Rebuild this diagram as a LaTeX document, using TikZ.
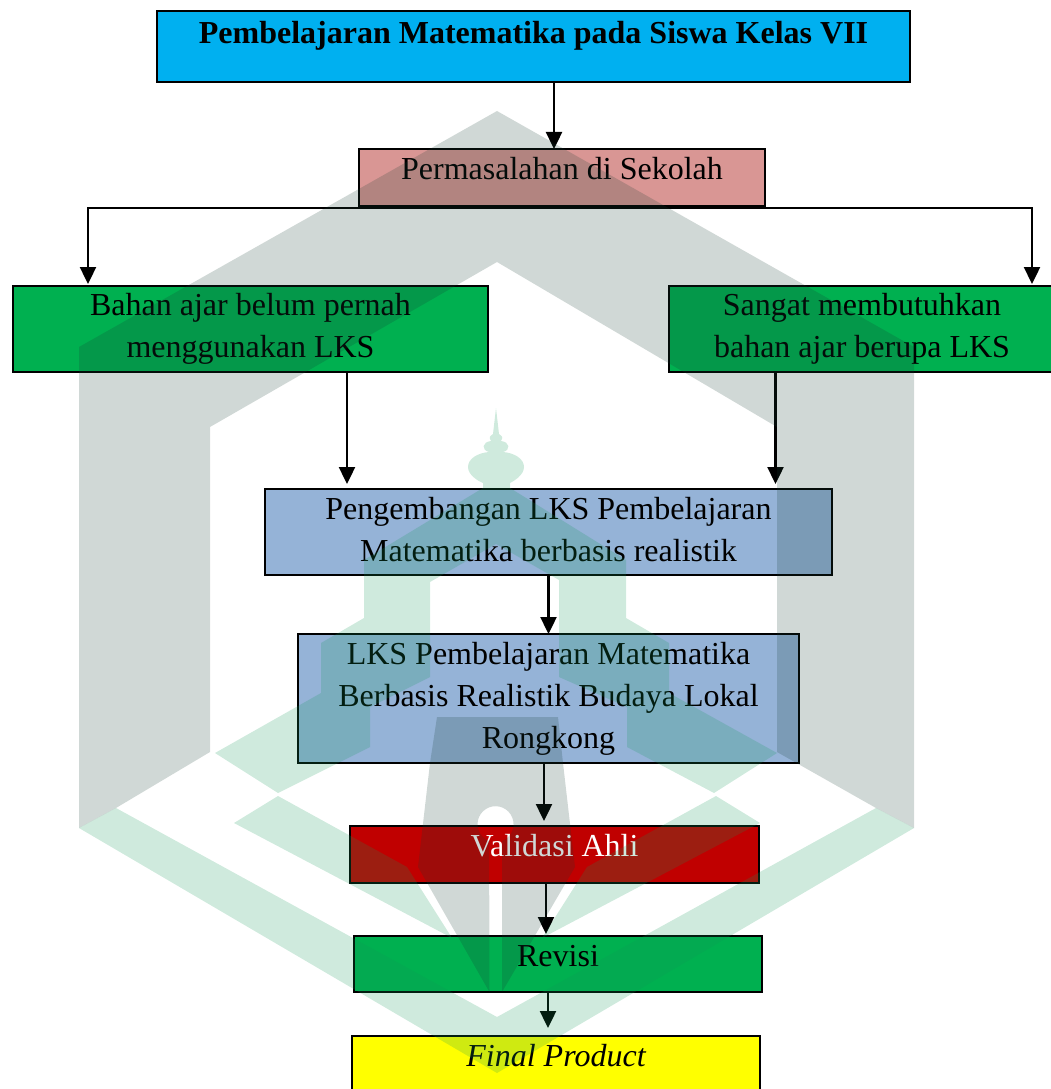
\documentclass[tikz,border=0pt]{standalone}
\usepackage{fontspec}
\setmainfont{Liberation Serif}
\usetikzlibrary{arrows.meta,positioning}

\definecolor{biru}{HTML}{00B0F0}
\definecolor{merahmuda}{HTML}{D99694}
\definecolor{hijaukotak}{HTML}{00B050}
\definecolor{birumuda}{HTML}{95B3D7}
\definecolor{merah}{HTML}{C00000}
\definecolor{kuning}{HTML}{FFFF00}
\definecolor{abu}{HTML}{163C32}
\definecolor{hijau}{HTML}{0F9655}

\tikzset{
  kotak/.style={draw,line width=2pt,inner sep=0pt,outer sep=0pt,align=center,
    font=\fontsize{32}{42}\selectfont},
  panah/.style={->,line width=2.4pt},
  abuair/.style={fill=abu,fill opacity=.2},
  hijauair/.style={fill=hijau,fill opacity=.2}
}

\begin{document}
\begin{tikzpicture}[x=1pt,y=-1pt,>={Triangle[length=17pt,width=16pt]}]
  \useasboundingbox (0,0) rectangle (1051,1089);

  \node[kotak,fill=biru,minimum width=753pt,minimum height=71pt,text height=32.5pt,text depth=38.5pt] (judul) at (533.5,46.5)
    {\bfseries Pembelajaran Matematika pada Siswa Kelas VII};
  \node[kotak,fill=merahmuda,minimum width=406pt,minimum height=57pt,text height=30pt,text depth=27pt] (masalah) [below=67pt of judul,xshift=28.5pt]
    {Permasalahan di Sekolah};
  \node[kotak,fill=hijaukotak,minimum width=475pt,minimum height=86pt,text height=71.5pt,text depth=14.5pt] (bahan) [below=80pt of masalah,xshift=-311.5pt]
    {Bahan ajar belum pernah\\menggunakan LKS};
  \node[kotak,fill=hijaukotak,minimum width=386pt,minimum height=86pt,text height=71.5pt,text depth=14.5pt] (butuh) [right=181pt of bahan]
    {Sangat membutuhkan\\bahan ajar berupa LKS};
  \node[kotak,fill=birumuda,minimum width=567pt,minimum height=86pt,text height=72pt,text depth=14pt] (kembang) [below=117pt of bahan,xshift=298pt]
    {Pengembangan LKS Pembelajaran\\Matematika berbasis realistik};
  \node[kotak,fill=birumuda,minimum width=501pt,minimum height=129pt,text height=114pt,text depth=15pt] (lks) [below=59pt of kembang]
    {LKS Pembelajaran Matematika\\Berbasis Realistik Budaya Lokal\\Rongkong};
  \node[kotak,fill=merah,text=white,minimum width=409pt,minimum height=57pt,text height=30pt,text depth=27pt] (validasi) [below=63pt of lks,xshift=6pt]
    {Validasi Ahli};
  \node[kotak,fill=hijaukotak,minimum width=408pt,minimum height=56pt,text height=30pt,text depth=26pt] (revisi) [below=53pt of validasi,xshift=3.5pt]
    {Revisi};
  \node[kotak,fill=kuning,minimum width=408pt,minimum height=59pt,text height=30pt,text depth=29pt] (final) [below=44pt of revisi,xshift=-2pt]
    {\itshape Final Product};

  \draw[panah] ([xshift=20.5pt]judul.south) -- ([xshift=-8pt]masalah.north);
  \draw[panah,shorten >=2pt] ([yshift=-2pt]masalah.south) -| ([xshift=-162.5pt]bahan.north);
  \draw[panah,shorten >=2pt] ([yshift=-2pt]masalah.south) -| ([xshift=170pt]butuh.north);
  \draw[panah,shorten >=5pt] ([xshift=96.5pt]bahan.south) -- ([xshift=-201.5pt]kembang.north);
  \draw[panah,shorten >=5pt] ([xshift=-86.5pt]butuh.south) -- ([xshift=227pt]kembang.north);
  \draw[panah] (kembang.south) -- (lks.north);
  \draw[panah,shorten >=5pt] ([xshift=-4.5pt]lks.south) -- ([xshift=-10.5pt]validasi.north);
  \draw[panah,shorten >=2pt] ([xshift=-8.5pt]validasi.south) -- ([xshift=-12pt]revisi.north);
  \draw[panah,shorten >=8pt] ([xshift=-10pt]revisi.south) -- ([xshift=-8pt]final.north);

  % watermark
  \fill[abuair] (497,111) -- (914,347) -- (914,828) -- (876,808) -- (777,752) -- (777,427) -- (497,262) -- (210,427)
    -- (210,752) -- (116,808) -- (79,828) -- (79,347) -- cycle;
  \fill[abuair] (437,717) -- (558,717) -- (563,763) -- (575,867) -- (502,992) -- (502,841)
    arc[start angle=-69,end angle=249,radius=18pt] -- (489.5,992) -- (418,867) -- (430,763) -- cycle;
  \fill[hijauair] (79,828) -- (116,808) -- (497,1017) -- (876,808) -- (914,828) -- (497,1073) -- cycle;
  \fill[hijauair] (234,823) -- (278,796) -- (407,867) -- (452,938) -- cycle;
  \fill[hijauair] (760,823) -- (716,796) -- (587,867) -- (542,938) -- cycle;
  \fill[hijauair] (496,408) -- (499,434) .. controls (503,437) .. (501,441)
    .. controls (510,442) and (511,450) .. (503,452)
    .. controls (515,453) and (524,459) .. (524,467)
    .. controls (524,475) and (514,481) .. (510,483)
    -- (510,488) -- (626,560) -- (626,618) -- (669,643) -- (669,693) -- (777,753) -- (714,793)
    -- (627,747) -- (627,707) -- (559,677) -- (559,580) -- (496,544) -- (430,582) -- (430,677)
    -- (370,707) -- (370,747) -- (278,793) -- (215,753) -- (321,693) -- (321,643) -- (364,618)
    -- (364,560) -- (483,488) -- (483,483)
    .. controls (478,481) and (468,475) .. (468,467)
    .. controls (468,459) and (477,453) .. (489,452)
    .. controls (481,450) and (482,442) .. (491,441)
    .. controls (489,437) .. (493,434) -- cycle;
\end{tikzpicture}
\end{document}
